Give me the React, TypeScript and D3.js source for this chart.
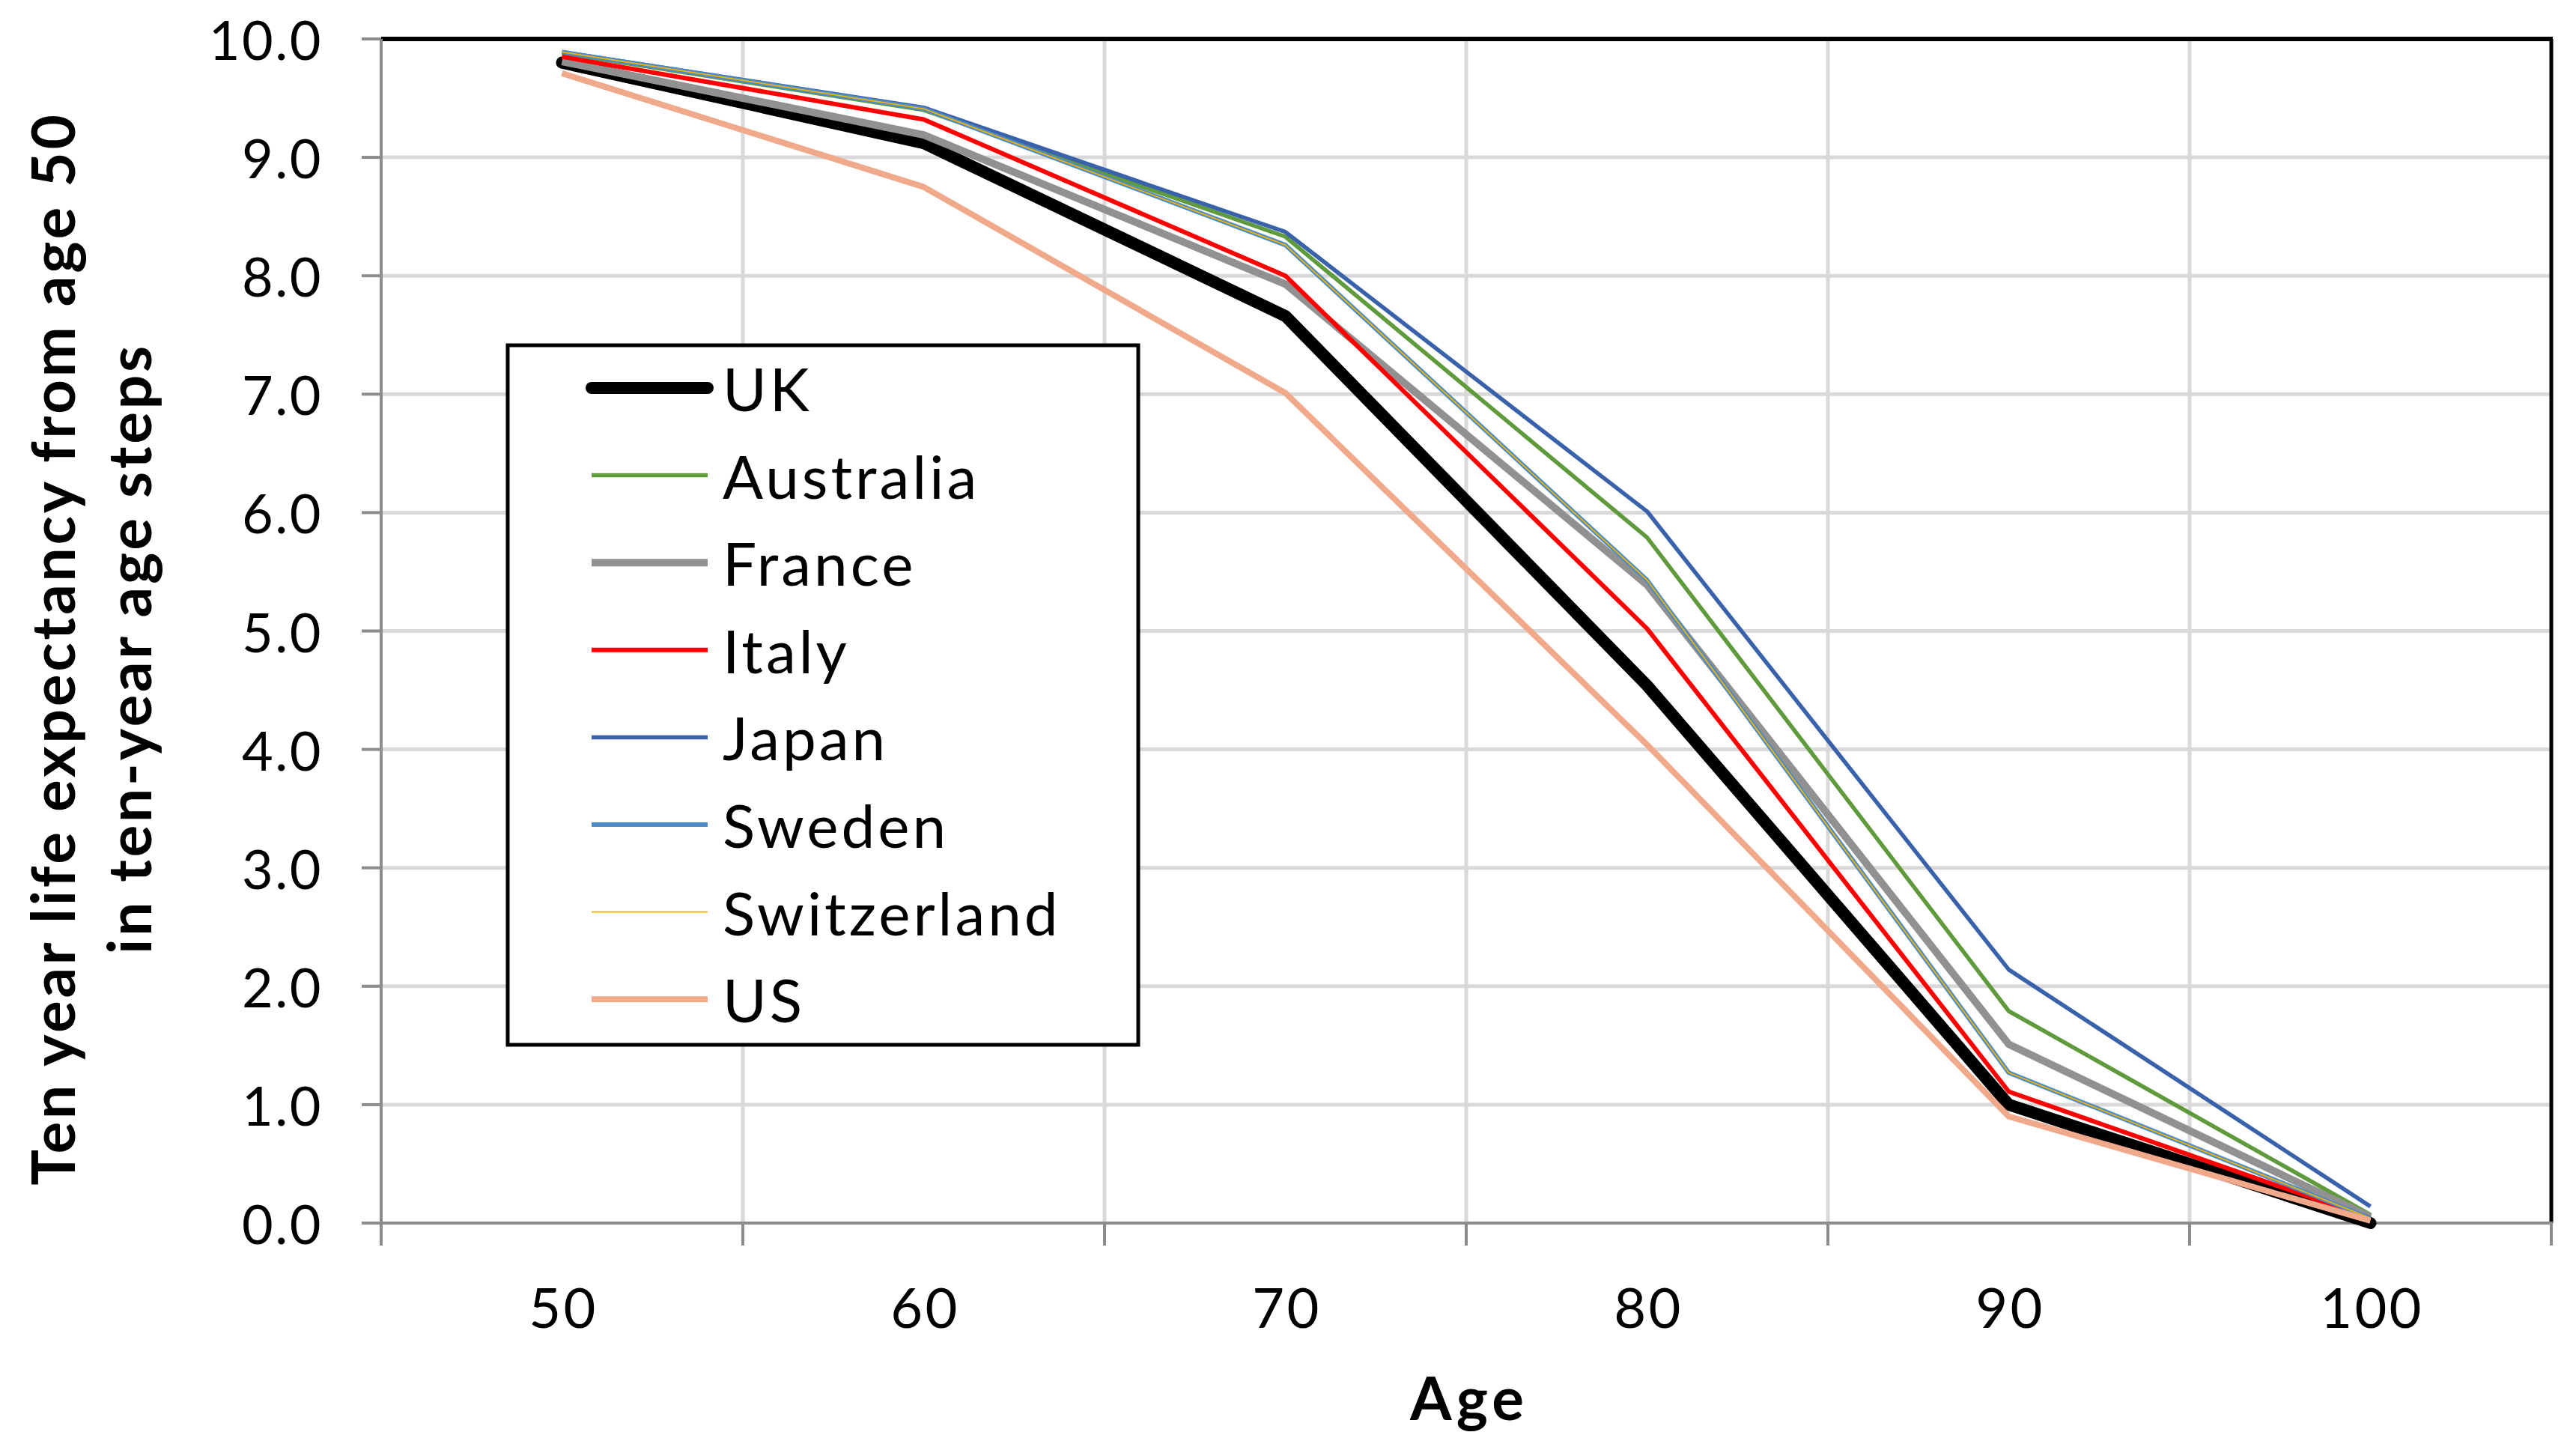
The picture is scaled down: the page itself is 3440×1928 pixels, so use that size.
import React, { useEffect, useRef } from 'react';
import * as d3 from 'd3';

// ages on the category axis
const ages = [50, 60, 70, 80, 90, 100];

// ten year life expectancy
const uk = [9.8, 9.12, 7.66, 4.54, 1.0, 0.0];
const australia = [9.88, 9.4, 8.33, 5.79, 1.79, 0.07];
const france = [9.81, 9.19, 7.93, 5.39, 1.51, 0.05];
const italy = [9.85, 9.32, 8.0, 5.02, 1.11, 0.04];
const japan = [9.89, 9.42, 8.37, 6.01, 2.14, 0.14];
const sweden = [9.89, 9.41, 8.26, 5.43, 1.27, 0.04];
const switzerland = [9.89, 9.41, 8.26, 5.43, 1.27, 0.04];
const us = [9.71, 8.75, 7.01, 4.04, 0.9, 0.02];

const yTicks = [0, 1, 2, 3, 4, 5, 6, 7, 8, 9, 10];

const series = [
  { name: 'UK', values: uk, color: '#000000', width: 16 },
  { name: 'Australia', values: australia, color: '#5f9a3c', width: 5.5 },
  { name: 'France', values: france, color: '#919191', width: 10 },
  { name: 'Italy', values: italy, color: '#ff0000', width: 6 },
  { name: 'Japan', values: japan, color: '#3a62ab', width: 5.5 },
  { name: 'Sweden', values: sweden, color: '#4d8cc6', width: 6 },
  { name: 'Switzerland', values: switzerland, color: '#f2b400', width: 1.8 },
  { name: 'US', values: us, color: '#f0a98a', width: 8 },
];

const W = 3440;
const H = 1928;
const FONT = 'Lato, "Open Sans", "Noto Sans", sans-serif';

const App: React.FC = () => {
  const svgRef = useRef<SVGSVGElement | null>(null);

  useEffect(() => {
    if (!svgRef.current) return;
    const svg = d3.select(svgRef.current);
    svg.selectAll('*').remove();

    const left = 509;
    const right = 3407;
    const top = 52;
    const bottom = 1633;

    const x = d3.scaleBand<number>().domain(ages).range([left, right]).padding(0);
    const bw = x.bandwidth();
    const cx = (a: number) => (x(a) as number) + bw / 2;
    const y = d3.scaleLinear().domain([0, 10]).range([bottom, top]);

    svg.append('rect').attr('width', W).attr('height', H).attr('fill', '#fff');

    // gridlines
    const grid = svg.append('g').attr('stroke', '#d9d9d9').attr('stroke-width', 5);
    yTicks.slice(1, -1).forEach(t => {
      grid.append('line').attr('x1', left).attr('x2', right).attr('y1', y(t)).attr('y2', y(t));
    });
    d3.range(1, ages.length).forEach(i => {
      grid.append('line').attr('x1', left + i * bw).attr('x2', left + i * bw).attr('y1', top).attr('y2', bottom);
    });

    // frame top and right
    svg.append('line').attr('x1', left).attr('x2', right + 2).attr('y1', top).attr('y2', top)
      .attr('stroke', '#000').attr('stroke-width', 6);
    svg.append('line').attr('x1', right).attr('x2', right).attr('y1', top).attr('y2', bottom)
      .attr('stroke', '#000').attr('stroke-width', 5);

    // axes
    const axis = svg.append('g').attr('stroke', '#8c8c8c').attr('stroke-width', 4);
    axis.append('line').attr('x1', left).attr('x2', left).attr('y1', top).attr('y2', bottom + 2);
    axis.append('line').attr('x1', left).attr('x2', right + 2).attr('y1', bottom).attr('y2', bottom);
    yTicks.forEach(t => {
      axis.append('line').attr('x1', left - 26).attr('x2', left).attr('y1', y(t)).attr('y2', y(t));
    });
    d3.range(0, ages.length + 1).forEach(i => {
      axis.append('line').attr('x1', left + i * bw).attr('x2', left + i * bw).attr('y1', bottom).attr('y2', bottom + 30);
    });

    // tick labels
    svg.append('g').selectAll('text').data(yTicks).join('text')
      .attr('x', 431).attr('y', d => y(d))
      .attr('text-anchor', 'end').attr('dominant-baseline', 'central')
      .attr('font-family', FONT).attr('font-size', 72).attr('letter-spacing', 2.5).attr('fill', '#000')
      .text(d => d.toFixed(1));

    svg.append('g').selectAll('text').data(ages).join('text')
      .attr('x', d => cx(d) + 2).attr('y', 1744)
      .attr('text-anchor', 'middle').attr('dominant-baseline', 'central')
      .attr('font-family', FONT).attr('font-size', 74).attr('letter-spacing', 3.3).attr('fill', '#000')
      .text(d => String(d));

    // axis titles
    svg.append('text')
      .attr('x', 1962).attr('y', 1865)
      .attr('text-anchor', 'middle').attr('dominant-baseline', 'central')
      .attr('font-family', FONT).attr('font-weight', 'bold').attr('font-size', 80).attr('letter-spacing', 6)
      .text('Age');

    const yt = svg.append('text')
      .attr('transform', 'translate(0, 866) rotate(-90)')
      .attr('text-anchor', 'middle')
      .attr('font-family', FONT).attr('font-weight', 'bold').attr('font-size', 80).attr('letter-spacing', 3.8);
    yt.append('tspan').attr('x', 0).attr('y', 100).text('Ten year life expectancy from age 50');
    yt.append('tspan').attr('x', 0).attr('y', 202).text('in ten-year age steps');

    // lines
    const line = d3.line<number>()
      .x((_, i) => cx(ages[i]))
      .y(d => y(d));

    series.forEach(s => {
      svg.append('path')
        .datum(s.values)
        .attr('d', line)
        .attr('fill', 'none')
        .attr('stroke', s.color)
        .attr('stroke-width', s.width)
        .attr('stroke-linejoin', 'round')
        .attr('stroke-linecap', s.name === 'UK' ? 'round' : 'butt');
    });

    // legend
    const lg = svg.append('g');
    lg.append('rect')
      .attr('x', 678).attr('y', 461).attr('width', 842).attr('height', 934)
      .attr('fill', '#fff').attr('stroke', '#000').attr('stroke-width', 5);
    series.forEach((s, i) => {
      const ly = 518 + i * 116.6;
      lg.append('line')
        .attr('x1', 790).attr('x2', 945).attr('y1', ly).attr('y2', ly)
        .attr('stroke', s.color).attr('stroke-width', s.width)
        .attr('stroke-linecap', s.name === 'UK' ? 'round' : 'butt');
      lg.append('text')
        .attr('x', 965).attr('y', ly)
        .attr('dominant-baseline', 'central')
        .attr('font-family', FONT).attr('font-size', 80).attr('letter-spacing', 4).attr('fill', '#000')
        .text(s.name);
    });
  }, []);

  return (
    <svg
      ref={svgRef}
      width={W}
      height={H}
      viewBox={`0 0 ${W} ${H}`}
      style={{ position: 'absolute', left: 0, top: 0, display: 'block' }}
    />
  );
};

export default App;
